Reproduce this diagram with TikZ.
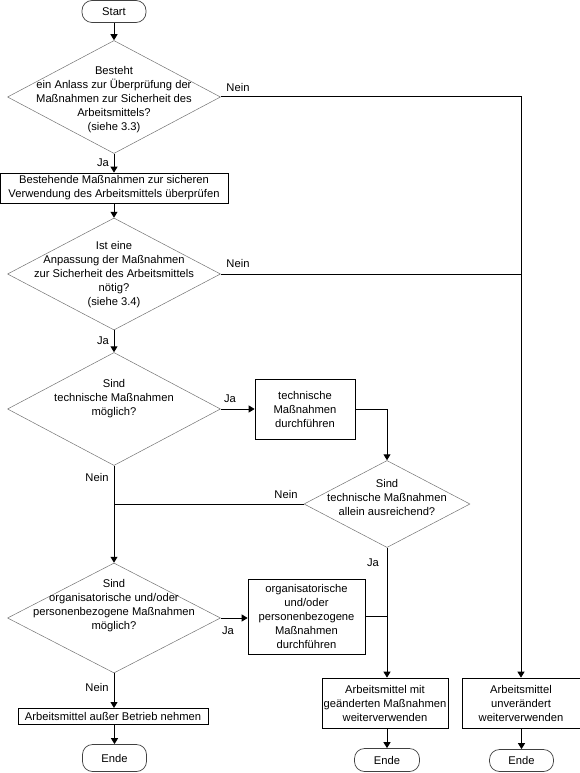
\documentclass[tikz,border=0pt]{standalone}
\usepackage{fontspec}
\setmainfont{Liberation Sans}
\usetikzlibrary{shapes.geometric, arrows.meta}
\tikzset{
  terminal/.style={rectangle, rounded corners=10pt, draw=black!75, line width=0.7pt,
                   minimum width=#1, minimum height=22pt, inner sep=0pt},
  terminal/.default=64pt,
  decision/.style={diamond, draw=black!55, line width=0.5pt, inner sep=0pt},
  dtext/.style={align=center, inner sep=0pt},
  process/.style={rectangle, draw=black, line width=0.7pt, align=center, inner sep=0pt},
  lbl/.style={inner sep=0pt},
  arrow/.style={-{Triangle[length=6pt, width=7pt]}, line width=1pt, color=black},
  conn/.style={line width=1pt, color=black},
}

\begin{document}
\begin{tikzpicture}[x=1pt, y=-1pt, font=\fontsize{11.2}{14}\selectfont]
  \useasboundingbox (0,0) rectangle (580,773);
  % start and first decision
  \node[terminal] (start) at (114,11.5) {Start};
  \node[decision, minimum width=213pt, minimum height=113pt] (d1) at (114,97) {};
  \node[dtext] (d1t) at ([yshift=-2.5pt]d1.center)
       {Besteht\\ein Anlass zur Überprüfung der\\Maßnahmen zur Sicherheit des\\Arbeitsmittels?\\(siehe 3.3)};
  \node[process, minimum width=228pt, minimum height=30pt] (b1) at (114,188)
       {Bestehende Maßnahmen zur sicheren\\Verwendung des Arbeitsmittels überprüfen};
  \node[decision, minimum width=213pt, minimum height=112pt] (d2) at (114,274) {};
  \node[dtext] (d2t) at ([yshift=-1pt]d2.center)
       {Ist eine\\Anpassung der Maßnahmen\\zur Sicherheit des Arbeitsmittels\\nötig?\\(siehe 3.4)};
  % technical measures
  \node[decision, minimum width=213pt, minimum height=113pt] (d3) at (114,409) {};
  \node[dtext] (d3t) at ([yshift=10pt]d3.center) {Sind\\technische Maßnahmen\\möglich?};
  \node[process, minimum width=100pt, minimum height=60pt] (b2) at (305,409)
       {technische\\Maßnahmen\\durchführen};
  \node[decision, minimum width=166pt, minimum height=87pt] (d4) at (387,504) {};
  \node[dtext] (d4t) at ([yshift=7pt]d4.center) {Sind\\technische Maßnahmen\\allein ausreichend?};
  % organisational measures
  \node[decision, minimum width=213pt, minimum height=110pt] (d5) at (114,618) {};
  \node[dtext] (d5t) at ([yshift=12pt]d5.center)
       {Sind\\organisatorische und/oder\\personenbezogene Maßnahmen\\möglich?};
  \node[process, minimum width=117pt, minimum height=75pt] (b3) at (306.5,616.5)
       {organisatorische\\und/oder\\personenbezogene\\Maßnahmen\\durchführen};
  % results
  \node[process, minimum width=190pt, minimum height=16pt, anchor=north] (b4) at (113,708)
       {Arbeitsmittel außer Betrieb nehmen};
  \node[process, minimum width=126pt, minimum height=50pt] (b5) at (385,703)
       {Arbeitsmittel mit\\geänderten Maßnahmen\\weiterverwenden};
  \node[process, minimum width=118pt, minimum height=50pt] (b6) at (521,703)
       {Arbeitsmittel\\unverändert\\weiterverwenden};
  \node[terminal, minimum height=27pt] (e1) at (114.5,758) {Ende};
  \node[terminal=65pt, minimum height=23pt] (e2) at (387,760) {Ende};
  \node[terminal] (e3) at (521.5,760.5) {Ende};

  % labels
  \node[lbl] (nein1) at (238,87) {Nein};
  \node[lbl] (ja1) at (103,163) {Ja};
  \node[lbl] (nein2) at (238,263) {Nein};
  \node[lbl] (ja2) at (103,341) {Ja};
  \node[lbl] (ja3) at (230,399) {Ja};
  \node[lbl] (nein3) at (97,477) {Nein};
  \node[lbl] (nein4) at (286,494) {Nein};
  \node[lbl] (ja5) at (373,563) {Ja};
  \node[lbl] (ja4) at (228,631) {Ja};
  \node[lbl] (nein5) at (97,687) {Nein};

  % connectors
  \draw[arrow] (start.south) -- (d1.north);
  \draw[arrow] (d1.south) -- (b1.north);
  \draw[arrow] (d1.east) -| (b6.north);
  \draw[arrow] (b1.south) -- (d2.north);
  \draw[conn] (d2.east) -- (d2.east -| b6.north);
  \draw[arrow] (d2.south) -- (d3.north);
  \draw[arrow] (d3.east) -- (d3.east -| b2.west);
  \draw[arrow] (b2.east) -| (d4.north);
  \draw[arrow] (d3.south) -- (d5.north);
  \draw[conn] (d4.west) -- (d4.west -| d3.south);
  \draw[arrow] (d5.east) -- (d5.east -| b3.west);
  \draw[conn] (b3.east) -- (b3.east -| d4.south);
  \draw[arrow] (d4.south) -- (d4.south |- b5.north);
  \draw[arrow] (d5.south) -- (d5.south |- b4.north);
  \draw[arrow] (b4.south -| e1.north) -- (e1.north);
  \draw[arrow] (b5.south -| e2.north) -- (e2.north);
  \draw[arrow] (b6.south -| e3.north) -- (e3.north);
\end{tikzpicture}
\end{document}
